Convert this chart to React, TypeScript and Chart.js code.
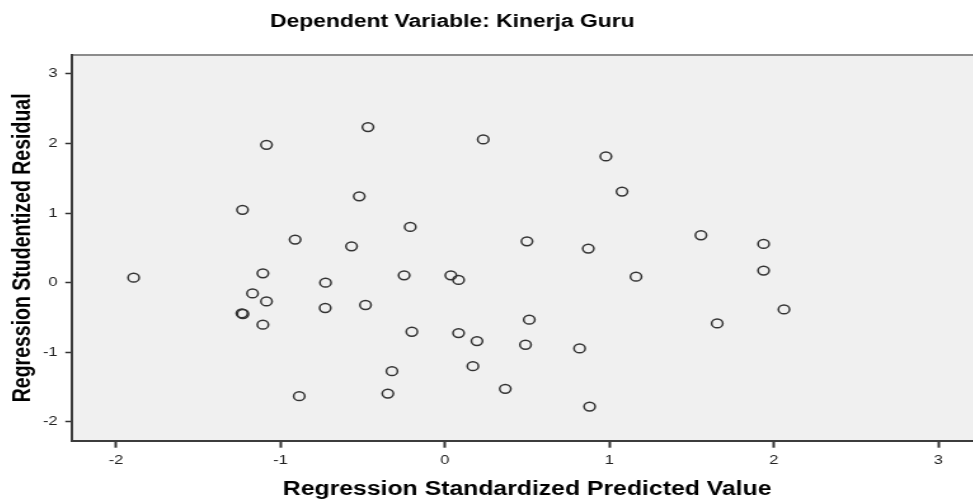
import React, { useEffect, useRef } from "react";
import { Chart, registerables } from "chart.js";

Chart.register(...registerables);

const chartTitle = "Dependent Variable: Kinerja Guru";
const xAxisTitle = "Regression Standardized Predicted Value";
const yAxisTitle = "Regression Studentized Residual";

const xTicks = [-2, -1, 0, 1, 2, 3];
const yTicks = [-2, -1, 0, 1, 2, 3];

const predicted = [
  -1.893, -1.085, -0.468, 0.233, 0.979, 1.077, -1.231, -0.521, -0.211, -0.911,
  -0.568, 0.499, 0.872, 1.557, 1.938, 1.938, 1.162, -1.107, -0.726, -0.248,
  0.036, 0.083, -1.17, -1.085, -0.728, -0.483, -1.235, -1.228, -1.107, -0.201,
  0.083, 0.195, 0.513, 0.49, 0.819, -0.322, 0.17, 0.367, -0.347, -0.886,
  0.88, 2.062, 1.656,
];

const residual = [
  0.072, 1.98, 2.235, 2.058, 1.813, 1.309, 1.046, 1.24, 0.8, 0.619,
  0.522, 0.594, 0.489, 0.681, 0.557, 0.173, 0.086, 0.134, 0.0, 0.105,
  0.105, 0.039, -0.154, -0.269, -0.364, -0.321, -0.44, -0.45, -0.604, -0.705,
  -0.724, -0.839, -0.532, -0.892, -0.945, -1.271, -1.199, -1.525, -1.593, -1.63,
  -1.78, -0.384, -0.585,
];

const FONT = "'Liberation Sans', Arial, Helvetica, sans-serif";

const plotFrame = {
  id: "plotFrame",
  beforeDraw(chart: any) {
    const { ctx, chartArea: a } = chart;
    ctx.save();
    ctx.fillStyle = "#f0f0f0";
    ctx.fillRect(a.left, a.top, a.right - a.left, a.bottom - a.top);
    ctx.strokeStyle = "#8c8c8c";
    ctx.lineWidth = 2;
    ctx.beginPath();
    ctx.moveTo(a.left, a.top);
    ctx.lineTo(a.right, a.top);
    ctx.lineTo(a.right, a.bottom);
    ctx.stroke();
    ctx.restore();
  },
};

export default function App() {
  const ref = useRef<HTMLCanvasElement | null>(null);

  useEffect(() => {
    if (!ref.current) return;
    const points = predicted.map((x, i) => ({ x, y: residual[i] }));
    const chart = new Chart(ref.current, {
      type: "scatter",
      data: {
        datasets: [
          {
            data: points,
            pointRadius: 4.4,
            pointBorderWidth: 1.5,
            pointBorderColor: "#333333",
            pointBackgroundColor: "rgba(0,0,0,0)",
            pointHoverRadius: 4.4,
          },
        ],
      },
      options: {
        animation: false,
        responsive: false,
        devicePixelRatio: 1,
        layout: { padding: 0, autoPadding: false },
        plugins: {
          legend: { display: false },
          tooltip: { enabled: false },
          title: {
            display: true,
            text: chartTitle,
            color: "#000",
            font: { family: FONT, size: 18, weight: "bold" },
            padding: { top: 10.8, bottom: 22.6 },
          },
        },
        scales: {
          x: {
            type: "linear",
            position: "bottom",
            min: -2.27,
            max: 3.27,
            afterBuildTicks: (s: any) => {
              s.ticks = xTicks.map((value) => ({ value }));
            },
            afterFit: (s: any) => {
              s.height = 60.3;
            },
            grid: {
              drawOnChartArea: false,
              drawTicks: true,
              tickLength: 7,
              tickColor: "#333",
              tickWidth: 2,
            },
            border: { display: true, color: "#3c3c3c", width: 2 },
            ticks: {
              color: "#222",
              font: { family: FONT, size: 13 },
              padding: 4.5,
              maxRotation: 0,
              autoSkip: false,
            },
            title: {
              display: true,
              text: xAxisTitle,
              color: "#000",
              font: { family: FONT, size: 19.5, weight: "bold" },
              padding: { top: 0, bottom: 0 },
            },
          },
          y: {
            type: "linear",
            position: "left",
            min: -2.27,
            max: 3.27,
            afterBuildTicks: (s: any) => {
              s.ticks = yTicks.map((value) => ({ value }));
            },
            afterFit: (s: any) => {
              s.width = 117.8;
            },
            grid: {
              drawOnChartArea: false,
              drawTicks: true,
              tickLength: 5,
              tickColor: "#333",
              tickWidth: 1.5,
            },
            border: { display: true, color: "#3c3c3c", width: 2 },
            ticks: {
              color: "#222",
              font: { family: FONT, size: 13 },
              padding: 6,
              autoSkip: false,
            },
            title: {
              display: true,
              text: yAxisTitle,
              color: "#000",
              font: { family: FONT, size: 19.5, weight: "bold" },
              padding: { top: 67.5, bottom: 0 },
            },
          },
        },
      },
      plugins: [plotFrame],
    } as any);
    return () => chart.destroy();
  }, []);

  return (
    <div
      style={{
        position: "fixed",
        left: 0,
        top: 0,
        width: 973,
        height: 501,
        overflow: "hidden",
        background: "#fff",
      }}
    >
      <div
        style={{
          position: "absolute",
          left: -77.9,
          top: 0,
          width: 835,
          height: 501,
          transform: "scaleX(1.2702)",
          transformOrigin: "0 0",
        }}
      >
        <canvas
          ref={ref}
          width={835}
          height={501}
          style={{ display: "block", width: 835, height: 501 }}
        />
      </div>
    </div>
  );
}
